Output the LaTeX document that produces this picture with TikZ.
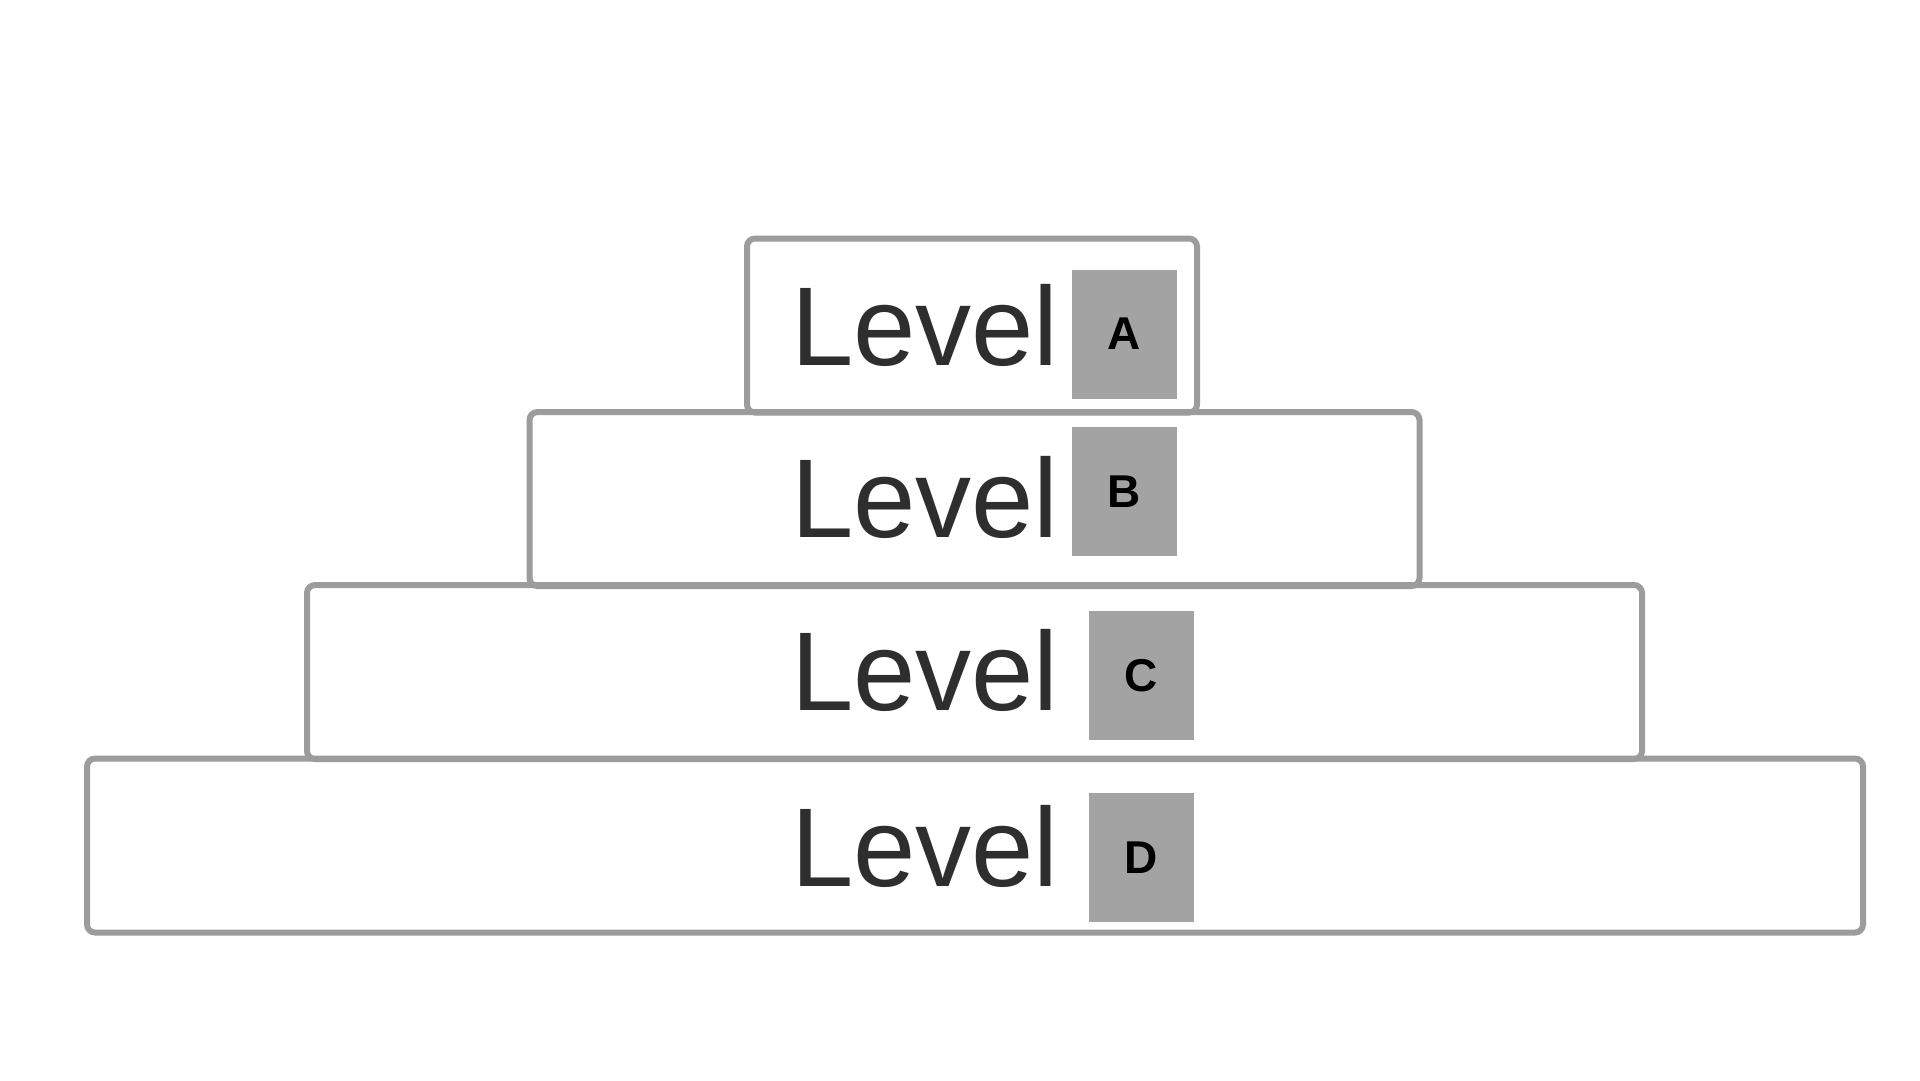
\documentclass[tikz,border=0pt]{standalone}
\usepackage{fontspec}
\setmainfont{Liberation Sans}
\definecolor{edgegray}{HTML}{9C9C9C}
\definecolor{taggray}{HTML}{A3A3A3}
\definecolor{inkgray}{HTML}{2E2E2E}

\begin{document}
\begin{tikzpicture}[x=1pt, y=-1pt,
  tier/.style={draw=edgegray, line width=6pt, rounded corners=8pt, inner sep=0pt, minimum height=174pt},
  lvltext/.style={text=inkgray, font=\fontsize{112}{112}\selectfont, inner sep=0pt},
  tag/.style={fill=taggray, text=black, font=\fontsize{46}{46}\selectfont\bfseries, inner sep=0pt, minimum width=105pt, minimum height=129pt}]

\useasboundingbox[fill=white] (0,0) rectangle (1920,1080);

% pyramid tiers, bottom first
\node[tier, minimum width=1776pt] (tierD) at (975,845.5) {};
\node[tier, minimum width=1335pt] (tierC) at (974.5,672) {};
\node[tier, minimum width=890pt] (tierB) at (974.5,499) {};
\node[tier, minimum width=450pt] (tierA) at (972,325.5) {};

\node[lvltext] (txtA) at (925,325) {Level};
\node[tag] (tagA) at (1124.5,334) {A};

\node[lvltext] (txtB) at (925,497) {Level};
\node[tag] (tagB) at (1124.5,491.5) {B};

\node[lvltext] (txtC) at (925,670) {Level};
\node[tag] (tagC) at (1141,675.5) {C};

\node[lvltext] (txtD) at (925,846) {Level};
\node[tag] (tagD) at (1141,857.5) {D};
\end{tikzpicture}
\end{document}
